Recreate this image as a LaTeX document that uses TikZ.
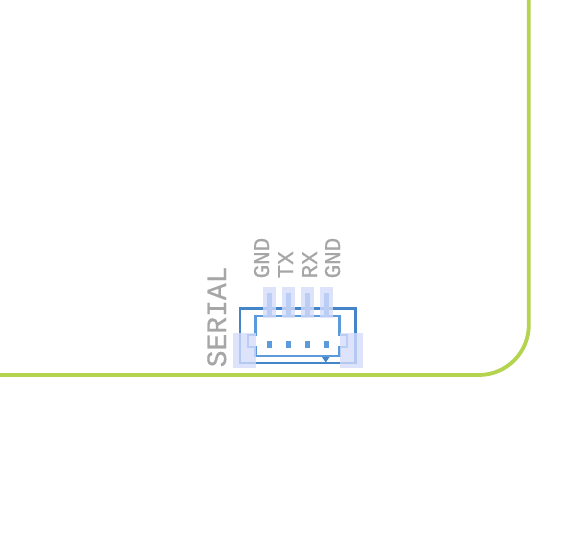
\documentclass[tikz,border=0pt]{standalone}
\usepackage{fontspec}
\setmainfont[FakeBold=0.6]{Liberation Mono}
\definecolor{edgegreen}{HTML}{B4D34F}
\definecolor{outerblue}{HTML}{4385C8}
\definecolor{innerblue}{HTML}{5B9BDB}
\definecolor{padblue}{HTML}{D5DCFC}
\definecolor{labelgray}{HTML}{A6A6A6}
\tikzset{
  board/.style={draw=edgegreen,line width=3.8pt},
  outerline/.style={draw=outerblue,line width=2.7pt},
  innerline/.style={draw=innerblue,line width=2.7pt},
  pinfill/.style={fill=innerblue},
  padfill/.style={fill=padblue,fill opacity=.78},
  pinlabel/.style={text=labelgray,rotate=90,anchor=base west,inner sep=0pt,font=\fontsize{22.5}{24}\selectfont},
  titlelabel/.style={text=labelgray,rotate=90,anchor=base west,inner sep=0pt,font=\fontsize{28}{30}\selectfont},
}
\begin{document}
\begin{tikzpicture}[x=1pt,y=-1pt]
\useasboundingbox (0,0) rectangle (585,558);
\fill[white] (0,0) rectangle (585,558);
% board edge
\draw[board] (0,375) -- (478.8,375) arc[start angle=90,end angle=0,radius=50] -- (528.8,0);
% connector body
\draw[outerline] (240,363) -- (240,308.5) -- (355.5,308.5) -- (355.5,363) -- cycle;
\draw[innerline] (255.5,335) -- (255.5,316) -- (339.5,316) -- (339.5,335)
   -- (347,335) -- (347,347) -- (339.5,347) -- (339.5,356) -- (255.5,356) -- (255.5,347)
   -- (248,347) -- (248,335) -- cycle;
\fill[outerblue] (322,357) -- (329.5,357) -- (325.75,362.5) -- cycle;
% pins
\foreach \x in {267,286,305,324}{
  \fill[pinfill] (\x,293) rectangle ++(5,24);
  \fill[pinfill] (\x,341) rectangle ++(5,7);
}
% pads
\foreach \x in {263,282,301,320}{
  \fill[padfill] (\x,287) rectangle ++(13,31);
}
\fill[padfill] (233,333) rectangle (256,368);
\fill[padfill] (340,333) rectangle (363,368);
% labels
\node[pinlabel] (gnda) at (269,278.5) {GND};
\node[pinlabel] (tx) at (293,278.5) {TX};
\node[pinlabel] (rx) at (317,278.5) {RX};
\node[pinlabel] (gndb) at (340,278.5) {GND};
\node[titlelabel] (serial) at (226,367.5) {SERIAL};
\end{tikzpicture}
\end{document}
